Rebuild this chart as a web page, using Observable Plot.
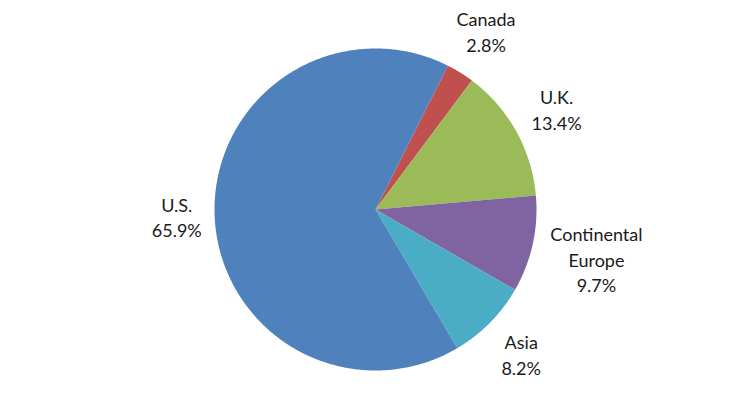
<!DOCTYPE html>
<html>
<head>
<meta charset="utf-8">
<script src="https://cdn.jsdelivr.net/npm/d3@7"></script>
<script src="https://cdn.jsdelivr.net/npm/@observablehq/plot@0.6"></script>
<style>
  html, body { margin: 0; padding: 0; background: #fff; }
  #chart svg { display: block; }
</style>
</head>
<body>
<div id="chart"></div>
<script>
const categories = ["Canada", "U.K.", "Continental Europe", "Asia", "U.S."];
const labelLines = [["Canada"], ["U.K."], ["Continental", "Europe"], ["Asia"], ["U.S."]];
const shares = [2.8, 13.4, 9.7, 8.2, 65.9];
const colors = ["#C0504D", "#9BBB59", "#8064A2", "#4BACC6", "#4F81BD"];

const W = 748, H = 419;
const R = 161; // pie radius in px
const cx = 375, cy = 209;
const startDeg = 26.7;
const fontPx = 18, lineH = 25.5, gap = 12;
const fontFamily = "Lato, 'Open Sans', sans-serif";

const pie = d3.pie().sort(null).value(d => d.share)
  .startAngle(startDeg * Math.PI / 180)
  .endAngle(startDeg * Math.PI / 180 + 2 * Math.PI);
const table = categories.map((c, i) => ({category: c, share: shares[i], lines: labelLines[i]}));
const arcs = pie(table);

// slice outlines in unit coordinates (x right, y up)
const outline = [];
for (const a of arcs) {
  const n = Math.max(2, Math.ceil((a.endAngle - a.startAngle) / 0.01));
  outline.push({category: a.data.category, x: 0, y: 0});
  for (let k = 0; k <= n; k++) {
    const t = a.startAngle + (a.endAngle - a.startAngle) * k / n;
    outline.push({category: a.data.category, x: Math.sin(t), y: Math.cos(t)});
  }
  outline.push({category: a.data.category, x: 0, y: 0});
}

// label positions: outside the pie along the slice's mid angle
const ctx = document.createElement("canvas").getContext("2d");
ctx.font = `${fontPx}px ${fontFamily}`;
const labels = arcs.map(a => {
  const lines = [...a.data.lines, a.data.share.toFixed(1) + "%"];
  const w = Math.max(...lines.map(s => ctx.measureText(s).width));
  const h = lines.length * lineH;
  const m = (a.startAngle + a.endAngle) / 2;
  const dx = Math.sin(m), dy = Math.cos(m);
  const ext = Math.abs(dx) * w / 2 + Math.abs(dy) * h / 2;
  const dist = (R + gap + ext) / R;
  return {text: lines.join("\n"), x: dx * dist, y: dy * dist};
});

const chart = Plot.plot({
  width: W,
  height: H,
  marginLeft: cx - R,
  marginRight: W - cx - R,
  marginTop: cy - R,
  marginBottom: H - cy - R,
  x: {domain: [-1, 1], axis: null},
  y: {domain: [-1, 1], axis: null},
  color: {domain: categories, range: colors},
  style: {fontFamily: fontFamily, fontSize: fontPx + "px", background: "#fff"},
  marks: [
    Plot.line(outline, {x: "x", y: "y", z: "category", fill: "category", stroke: "none", curve: "linear-closed"}),
    Plot.text(labels, {x: "x", y: "y", text: "text", fill: "#1a1a1a", fontSize: fontPx, lineHeight: lineH / fontPx, textAnchor: "middle"})
  ]
});
document.getElementById("chart").append(chart);
</script>
</body>
</html>
